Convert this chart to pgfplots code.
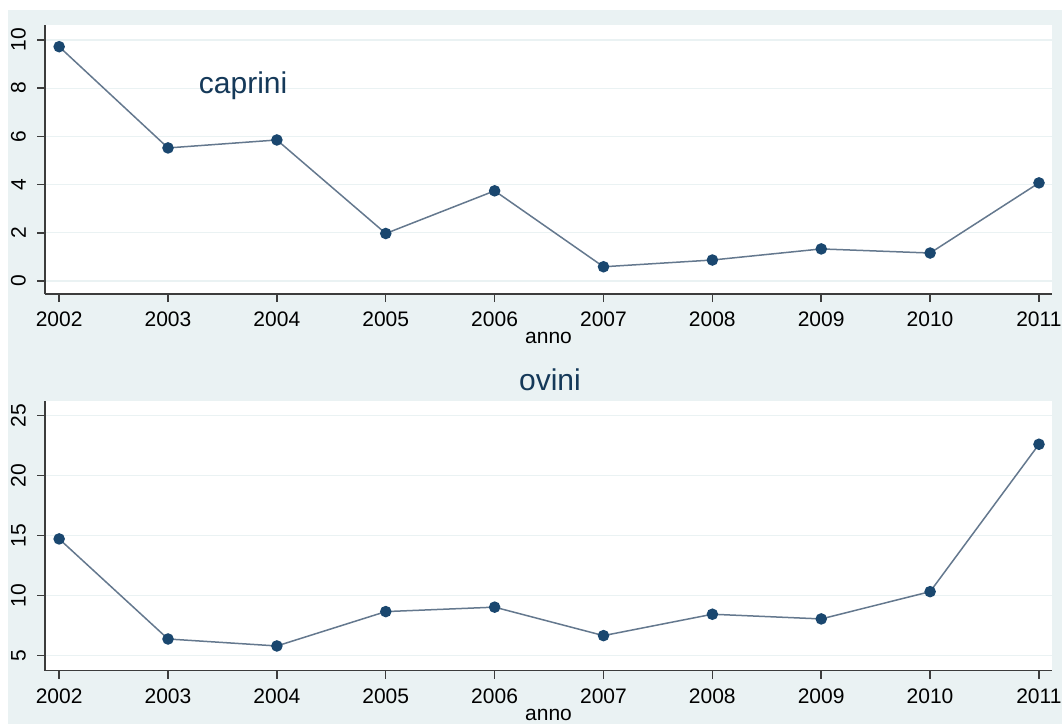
\documentclass[border=0pt]{standalone}
\usepackage{pgfplots}
\pgfplotsset{compat=1.18}
\usepackage{fontspec}
\setmainfont{Liberation Sans}
\definecolor{bgc}{RGB}{234,242,243}
\definecolor{gridc}{RGB}{234,242,243}
\definecolor{linec}{RGB}{100,120,142}
\definecolor{markc}{RGB}{26,71,111}
\definecolor{axc}{RGB}{60,60,60}
\pgfplotsset{
  stata/.style={
    scale only axis, width=1007pt,
    xmin=2001.87, xmax=2011.12,
    xtick={2002,...,2011},
    xticklabel style={/pgf/number format/set thousands separator={}, /pgf/number format/assume math mode=true, font=\fontsize{21}{24}\selectfont, inner sep=0pt, anchor=north, yshift=-10pt},
    yticklabel style={/pgf/number format/assume math mode=true, font=\fontsize{21}{24}\selectfont, rotate=90, anchor=south, inner sep=0pt, yshift=11pt},
    axis x line*=bottom, axis y line*=left,
    axis line style={axc, line width=1.5pt, -},
    tick style={axc, line width=1.5pt},
    tick align=outside, major tick length=8pt,
    ymajorgrids, grid style={gridc, line width=1.2pt},
    axis background/.style={fill=white},
    xlabel={anno},
    xlabel style={font=\fontsize{21}{24}\selectfont, inner sep=0pt, at={(axis description cs:0.5,0)}, anchor=center, yshift=-44pt},
    clip=false,
  },
  ser/.style={color=linec, line width=1.5pt, mark=*, mark size=5pt, mark options={fill=markc, draw=markc}},
}
\begin{document}
\begin{tikzpicture}
\useasboundingbox (0pt,0pt) rectangle (1062pt,724pt);
\fill[bgc] (8pt,0pt) rectangle (1070pt,714pt);
\begin{axis}[stata, at={(45pt,430pt)}, anchor=south west, height=269pt,
  ymin=-0.54, ymax=10.62, ytick={0,2,4,6,8,10}]
\addplot[ser] coordinates {
(2002,9.72) (2003,5.52) (2004,5.85) (2005,1.97) (2006,3.74)
(2007,0.59) (2008,0.87) (2009,1.33) (2010,1.16) (2011,4.07)};
\node[font=\fontsize{30}{34}\selectfont, text=markc!80!black] at (axis cs:2003.69,8.1) {caprini};
\end{axis}
\begin{axis}[stata, at={(45pt,53.3pt)}, anchor=south west, height=269.7pt,
  ymin=3.75, ymax=26.2, ytick={5,10,15,20,25}]
\addplot[ser] coordinates {
(2002,14.72) (2003,6.39) (2004,5.81) (2005,8.67) (2006,9.04)
(2007,6.67) (2008,8.45) (2009,8.06) (2010,10.33) (2011,22.6)};
\end{axis}
\node[font=\fontsize{30}{34}\selectfont, text=markc!80!black] at (550pt,344pt) {ovini};
\end{tikzpicture}
\end{document}
